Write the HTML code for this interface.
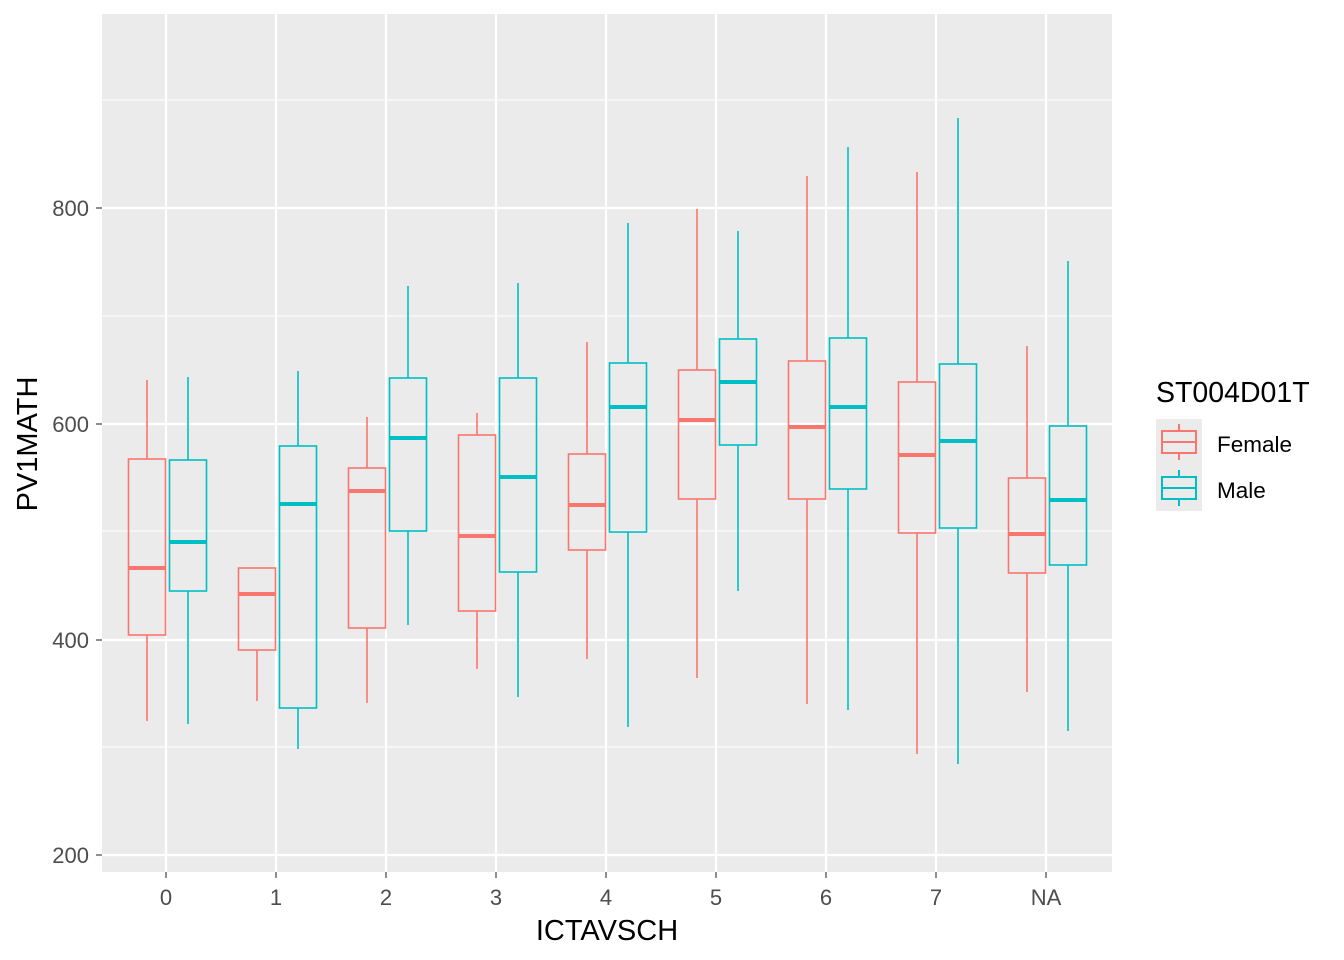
<!DOCTYPE html>
<html><head><meta charset="utf-8"><style>body{margin:0;background:#fff}svg{display:block}</style></head>
<body>
<svg id="s" width="1344" height="960" xmlns="http://www.w3.org/2000/svg" font-family="Liberation Sans, sans-serif">
<rect x="102" y="14" width="1010" height="858" fill="#ebebeb"/>
<g stroke="#fff" stroke-width="1.1">
<line x1="102" x2="1112" y1="747" y2="747"/><line x1="102" x2="1112" y1="531" y2="531"/><line x1="102" x2="1112" y1="316" y2="316"/><line x1="102" x2="1112" y1="100" y2="100"/>
</g>
<g stroke="#fff" stroke-width="2.2">
<line x1="102" x2="1112" y1="208" y2="208"/><line x1="102" x2="1112" y1="424" y2="424"/><line x1="102" x2="1112" y1="640" y2="640"/><line x1="102" x2="1112" y1="855" y2="855"/>
<line y1="14" y2="872" x1="166" x2="166"/><line y1="14" y2="872" x1="276" x2="276"/><line y1="14" y2="872" x1="386" x2="386"/><line y1="14" y2="872" x1="496" x2="496"/><line y1="14" y2="872" x1="606" x2="606"/><line y1="14" y2="872" x1="716" x2="716"/><line y1="14" y2="872" x1="826" x2="826"/><line y1="14" y2="872" x1="936" x2="936"/><line y1="14" y2="872" x1="1046" x2="1046"/>
</g>
<g id="boxes"></g>
<g font-size="22" fill="#4d4d4d" text-anchor="end">
<text x="89" y="216">800</text><text x="89" y="432">600</text><text x="89" y="648">400</text><text x="89" y="863">200</text>
</g>
<g stroke="#333" stroke-width="1.1"><line x1="96" x2="102" y1="208" y2="208"/><line x1="96" x2="102" y1="424" y2="424"/><line x1="96" x2="102" y1="640" y2="640"/><line x1="96" x2="102" y1="855" y2="855"/>
<line y1="872" y2="878" x1="166" x2="166"/><line y1="872" y2="878" x1="276" x2="276"/><line y1="872" y2="878" x1="386" x2="386"/><line y1="872" y2="878" x1="496" x2="496"/><line y1="872" y2="878" x1="606" x2="606"/><line y1="872" y2="878" x1="716" x2="716"/><line y1="872" y2="878" x1="826" x2="826"/><line y1="872" y2="878" x1="936" x2="936"/><line y1="872" y2="878" x1="1046" x2="1046"/></g>
<g font-size="22" fill="#4d4d4d" text-anchor="middle">
<text x="166" y="905">0</text><text x="276" y="905">1</text><text x="386" y="905">2</text><text x="496" y="905">3</text><text x="606" y="905">4</text><text x="716" y="905">5</text><text x="826" y="905">6</text><text x="936" y="905">7</text><text x="1046" y="905">NA</text>
</g>
<text x="607" y="940" font-size="29" text-anchor="middle">ICTAVSCH</text>
<text transform="translate(37,444) rotate(-90)" font-size="29" text-anchor="middle">PV1MATH</text>
<text x="1156" y="402" font-size="28.5">ST004D01T</text>
<rect x="1156" y="419" width="46" height="92" fill="#ebebeb"/>
<g fill="none" stroke-width="2" stroke="#F8766D"><line x1="1179" x2="1179" y1="424" y2="460"/><rect x="1162" y="431" width="34" height="22" fill="#ebebeb"/><line x1="1162" x2="1196" y1="442" y2="442"/></g>
<g fill="none" stroke-width="2" stroke="#00BFC4"><line x1="1179" x2="1179" y1="470" y2="506"/><rect x="1162" y="477" width="34" height="22" fill="#ebebeb"/><line x1="1162" x2="1196" y1="488" y2="488"/></g>
<text x="1217" y="452" font-size="22.5">Female</text><text x="1217" y="498" font-size="22.5">Male</text>
</svg>
<script>
var d=[[147,380,459,568,635,721,0],[188,377,460,542,591,724,1],[257,568,568,594,650,701,0],[298,371,446,504,708,749,1],[367,417,468,491,628,703,0],[408,286,378,438,531,625,1],[477,413,435,536,611,669,0],[518,283,378,477,572,697,1],[587,342,454,505,550,659,0],[628,223,363,407,532,727,1],[697,209,370,420,499,678,0],[738,231,339,382,445,591,1],[807,176,361,427,499,704,0],[848,147,338,407,489,710,1],[917,172,382,455,533,754,0],[958,118,364,441,528,764,1],[1027,346,478,534,573,692,0],[1068,261,426,500,565,731,1]];
var h='';d.forEach(function(b){var c=b[6]?'#00BFC4':'#F8766D';var x=b[0];
h+='<g stroke="'+c+'" fill="none" stroke-width="1.6"><line x1="'+x+'" x2="'+x+'" y1="'+b[1]+'" y2="'+b[2]+'"/><line x1="'+x+'" x2="'+x+'" y1="'+b[4]+'" y2="'+b[5]+'"/><rect x="'+(x-18.5)+'" y="'+b[2]+'" width="37" height="'+(b[4]-b[2])+'"/><line x1="'+(x-18.5)+'" x2="'+(x+18.5)+'" y1="'+b[3]+'" y2="'+b[3]+'" stroke-width="4"/></g>';});
document.getElementById('boxes').innerHTML=h;
</script>
</body></html>
